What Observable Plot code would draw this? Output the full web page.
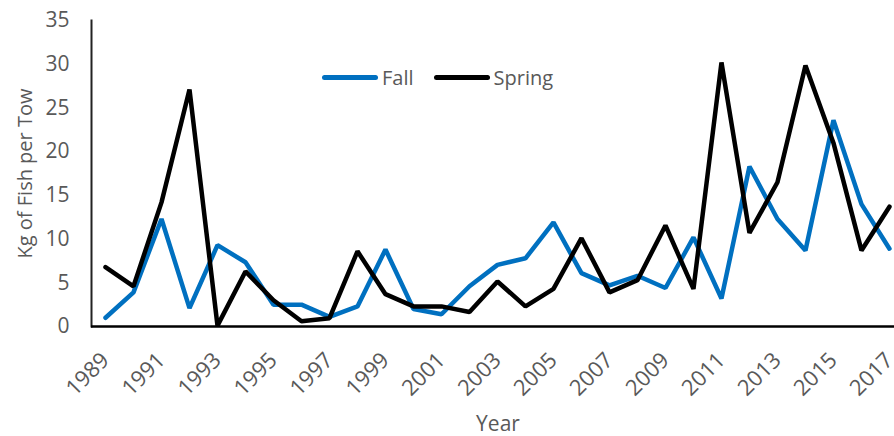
<!DOCTYPE html>
<html>
<head>
<meta charset="utf-8">
<script src="https://cdn.jsdelivr.net/npm/d3@7"></script>
<script src="https://cdn.jsdelivr.net/npm/@observablehq/plot@0.6"></script>
<style>
  html, body { margin: 0; padding: 0; background: #fff; }
  #wrap { position: relative; width: 894px; height: 436px; overflow: hidden; }
  .legend { position: absolute; top: 64px; left: 322px; display: flex; align-items: center;
    font-family: "Open Sans", sans-serif; font-size: 20px; color: #595959; }
  .legend .sw { display: inline-block; width: 56px; height: 5px; border-radius: 3px; margin-right: 4px; }
  .legend .item { display: flex; align-items: center; margin-right: 20px; }
  svg [aria-label="x-axis tick label"] { font-size: 22px; }
  svg [aria-label="y-axis tick label"] { font-size: 21px; }
</style>
</head>
<body>
<div id="wrap"></div>
<script>
const years = d3.range(1989, 2018);
const fall = [1.0, 3.9, 12.3, 2.1, 9.3, 7.35, 2.5, 2.5, 1.1, 2.3, 8.8, 2.0, 1.4, 4.6, 7.05, 7.8, 11.9, 6.1, 4.7, 5.8, 4.4, 10.2, 3.2, 18.3, 12.3, 8.7, 23.6, 14.0, 8.9];
const spring = [6.8, 4.6, 14.2, 27.1, 0.1, 6.3, 3.0, 0.6, 0.95, 8.6, 3.7, 2.3, 2.3, 1.65, 5.15, 2.3, 4.3, 10.1, 3.9, 5.3, 11.55, 4.3, 30.2, 10.7, 16.5, 29.85, 21.0, 8.7, 13.7];
const seriesNames = ["Fall", "Spring"];
const seriesColors = ["#0070C0", "#000000"];
const yTicks = [0, 5, 10, 15, 20, 25, 30, 35];
const xTicks = d3.range(1989, 2018, 2);
const yLabel = "Kg of Fish per Tow";
const xLabel = "Year";

const rows = [];
years.forEach((yr, i) => {
  rows.push({year: yr, value: fall[i], series: seriesNames[0]});
  rows.push({year: yr, value: spring[i], series: seriesNames[1]});
});

const chart = Plot.plot({
  width: 894,
  height: 436,
  marginLeft: 91,
  marginRight: 0,
  marginTop: 20,
  marginBottom: 110,
  style: {fontFamily: "'Open Sans', sans-serif", fontSize: "20px", color: "#595959", background: "#fff", overflow: "visible"},
  x: {domain: [1988.5, 2017.18]},
  y: {domain: [0, 35]},
  color: {domain: seriesNames, range: seriesColors},
  marks: [
    Plot.axisY({ticks: yTicks, tickSize: 0, tickPadding: 22, label: null, tickFormat: d => d}),
    Plot.axisX({ticks: xTicks, tickSize: 0, tickRotate: -45, tickPadding: 30, tickFormat: d => String(d), label: null}),
    Plot.text([yLabel], {text: d => d, frameAnchor: "left", textAnchor: "middle", rotate: -90, dx: -66, dy: 0, fontSize: 20, fill: "#595959"}),
    Plot.text([xLabel], {text: d => d, frameAnchor: "bottom", dy: 104, dx: 5, fontSize: 21, fill: "#595959"}),
    Plot.line(rows, {x: "year", y: "value", z: "series", stroke: "series", strokeWidth: 4.5, strokeLinejoin: "miter", strokeLinecap: "round"}),
    Plot.frame({anchor: "left", stroke: "#222", strokeWidth: 2}),
    Plot.ruleY([0], {stroke: "#000", strokeWidth: 2.5})
  ]
});

const wrap = document.getElementById("wrap");
wrap.appendChild(chart);
const legend = document.createElement("div");
legend.className = "legend";
seriesNames.forEach((n, i) => {
  const item = document.createElement("span");
  item.className = "item";
  const sw = document.createElement("span");
  sw.className = "sw";
  sw.style.background = seriesColors[i];
  const t = document.createElement("span");
  t.textContent = n;
  item.appendChild(sw); item.appendChild(t);
  legend.appendChild(item);
});
wrap.appendChild(legend);
</script>
</body>
</html>
